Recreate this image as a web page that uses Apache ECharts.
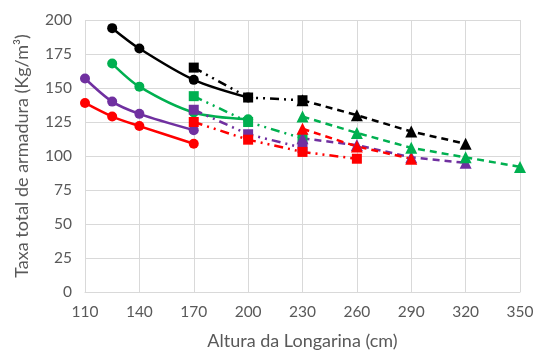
<!DOCTYPE html>
<html>
<head>
<meta charset="utf-8">
<script src="https://cdn.jsdelivr.net/npm/echarts@6/dist/echarts.min.js"></script>
<style>
  html, body { margin: 0; padding: 0; background: #fff; }
  #chart { width: 538px; height: 351px; }
</style>
</head>
<body>
<div id="chart"></div>
<script>
// values (x = altura, y = taxa)
const blackCircleX = [125, 140, 170, 200];
const blackCircleY = [194, 179, 156, 143];
const greenCircleX = [125, 140, 170, 200];
const greenCircleY = [168, 151, 132, 127];
const purpleCircleX = [110, 125, 140, 170];
const purpleCircleY = [157, 140, 131, 119];
const redCircleX = [110, 125, 140, 170];
const redCircleY = [139, 129, 122, 109];

const blackSquareX = [170, 200, 230];
const blackSquareY = [165, 143, 141];
const greenSquareX = [170, 200, 230];
const greenSquareY = [144, 125, 113];
const purpleSquareX = [170, 200, 230];
const purpleSquareY = [134, 116, 106];
const redSquareX = [170, 200, 230, 260];
const redSquareY = [125, 112, 103, 98];

const blackTriX = [230, 260, 290, 320];
const blackTriY = [141, 130, 118, 109];
const greenTriX = [230, 260, 290, 320, 350];
const greenTriY = [129, 117, 106, 99, 92];
const purpleTriX = [230, 260, 290, 320];
const purpleTriY = [113, 108, 99, 95];
const redTriX = [230, 260, 290];
const redTriY = [120, 107, 98];

const BLACK = '#000000', GREEN = '#00B050', PURPLE = '#7030A0', RED = '#FF0000';
const TEXT = '#595959';
const FONT = 'Lato';

const pairs = (xs, ys) => xs.map((x, i) => [x, ys[i]]);

const circle = (color, xs, ys) => ({
    type: 'line', data: pairs(xs, ys), smooth: 0.3,
    symbol: 'circle', symbolSize: 10,
    lineStyle: { color, width: 2.5, type: 'solid' },
    itemStyle: { color }
});
const square = (color, xs, ys) => ({
    type: 'line', data: pairs(xs, ys),
    symbol: 'rect', symbolSize: 10,
    lineStyle: { color, width: 2.5, type: [9, 5, 2, 5, 2, 5] },
    itemStyle: { color }
});
const tri = (color, xs, ys) => ({
    type: 'line', data: pairs(xs, ys),
    symbol: 'triangle', symbolSize: 12,
    lineStyle: { color, width: 2.5, type: [7, 5] },
    itemStyle: { color }
});

const chart = echarts.init(document.getElementById('chart'));
chart.setOption({
    animation: false,
    backgroundColor: '#fff',
    grid: { left: 85, right: 18, top: 20, bottom: 59, outerBoundsMode: 'none' },
    xAxis: {
        type: 'value', min: 110, max: 350, interval: 30,
        name: 'Altura da Longarina (cm)', nameLocation: 'middle', nameGap: 40,
        nameTextStyle: { color: TEXT, fontSize: 18, fontFamily: FONT },
        axisLine: { show: true, lineStyle: { color: '#d9d9d9' } },
        axisTick: { show: false },
        axisLabel: { color: TEXT, fontSize: 15.5, fontFamily: FONT, margin: 12 },
        splitLine: { show: true, lineStyle: { color: '#d9d9d9' } }
    },
    yAxis: {
        type: 'value', min: 0, max: 200, interval: 25,
        name: 'Taxa total de armadura (Kg/m³)', nameLocation: 'middle', nameGap: 54,
        nameTextStyle: { color: TEXT, fontSize: 18, fontFamily: FONT },
        axisLine: { show: false },
        axisTick: { show: false },
        axisLabel: { color: TEXT, fontSize: 15.5, fontFamily: FONT, margin: 13 },
        splitLine: { show: true, lineStyle: { color: '#d9d9d9' } }
    },
    series: [
        circle(BLACK, blackCircleX, blackCircleY),
        circle(GREEN, greenCircleX, greenCircleY),
        circle(PURPLE, purpleCircleX, purpleCircleY),
        circle(RED, redCircleX, redCircleY),
        square(BLACK, blackSquareX, blackSquareY),
        square(GREEN, greenSquareX, greenSquareY),
        square(PURPLE, purpleSquareX, purpleSquareY),
        square(RED, redSquareX, redSquareY),
        tri(PURPLE, purpleTriX, purpleTriY),
        tri(RED, redTriX, redTriY),
        tri(GREEN, greenTriX, greenTriY),
        tri(BLACK, blackTriX, blackTriY)
    ]
});
</script>
</body>
</html>
